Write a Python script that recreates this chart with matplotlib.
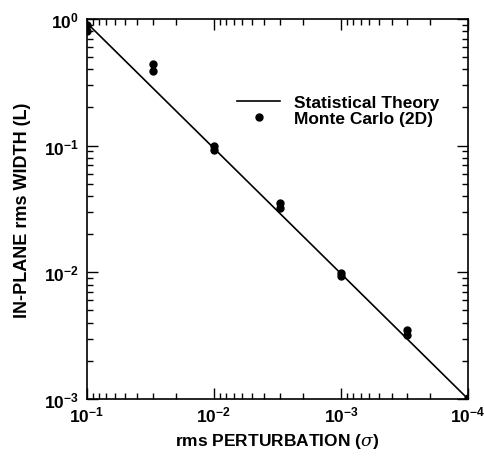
import matplotlib
matplotlib.use("Agg")
import matplotlib.pyplot as plt
from matplotlib.ticker import FuncFormatter, LogLocator
import numpy as np

plt.rcParams['font.family'] = ['Liberation Sans', 'DejaVu Sans']
plt.rcParams['mathtext.fontset'] = 'custom'
plt.rcParams['mathtext.rm'] = 'Liberation Sans:bold'
plt.rcParams['mathtext.bf'] = 'Liberation Sans:bold'
plt.rcParams['mathtext.it'] = 'DejaVu Serif:italic'

# statistical theory line endpoints
theory_x = [1e-1, 1e-4]
theory_y = [0.93, 1e-3]

# Monte Carlo (2D) points, two realisations per perturbation
mc_x = [1e-1, 1e-1, 3e-2, 3e-2, 1e-2, 1e-2, 3e-3, 3e-3, 1e-3, 1e-3, 3e-4, 3e-4, 1e-4, 1e-4]
mc_y = [0.9, 0.8, 0.44, 0.39, 0.1, 0.092, 0.035, 0.032, 0.0099, 0.0093,
        0.0035, 0.0032, 0.00101, 0.00099]

fig = plt.figure(figsize=(4.85, 4.64), dpi=100)
ax = fig.add_axes([0.179, 0.138, 0.786, 0.819])

ax.plot(theory_x, theory_y, color='black', lw=1.2, label='Statistical Theory')
ax.plot(mc_x, mc_y, 'o', color='black', ms=5, label='Monte Carlo (2D)')

ax.set_xscale('log')
ax.set_yscale('log')
ax.set_xlim(1e-1, 1e-4)
ax.set_ylim(1e-3, 1e0)

fmt = FuncFormatter(lambda v, p: r'$\mathbf{10^{%d}}$' % int(round(np.log10(v))))
ax.xaxis.set_major_formatter(fmt)
ax.yaxis.set_major_formatter(fmt)
ax.xaxis.set_major_locator(LogLocator(base=10, numticks=10))
ax.yaxis.set_major_locator(LogLocator(base=10, numticks=10))
ax.tick_params(which='both', direction='in', top=True, right=True, labelsize=12.5)
ax.tick_params(which='major', length=8, width=1)
ax.tick_params(which='minor', length=4, width=1)
ax.tick_params(axis='x', pad=4)
ax.tick_params(axis='y', pad=6)
for s in ax.spines.values():
    s.set_linewidth(1.2)

ax.set_xlabel(r'rms PERTURBATION ($\sigma$)', fontsize=12.5, fontweight='bold', labelpad=5)
ax.set_ylabel('IN-PLANE rms WIDTH (L)', fontsize=13, fontweight='bold', labelpad=9)

ax.legend(loc='upper right', bbox_to_anchor=(0.966, 0.842), frameon=False,
          prop={'weight': 'bold', 'size': 12.5}, handlelength=2.5, labelspacing=0.05,
          handletextpad=0.8)

fig.savefig('out.png', dpi=100)
